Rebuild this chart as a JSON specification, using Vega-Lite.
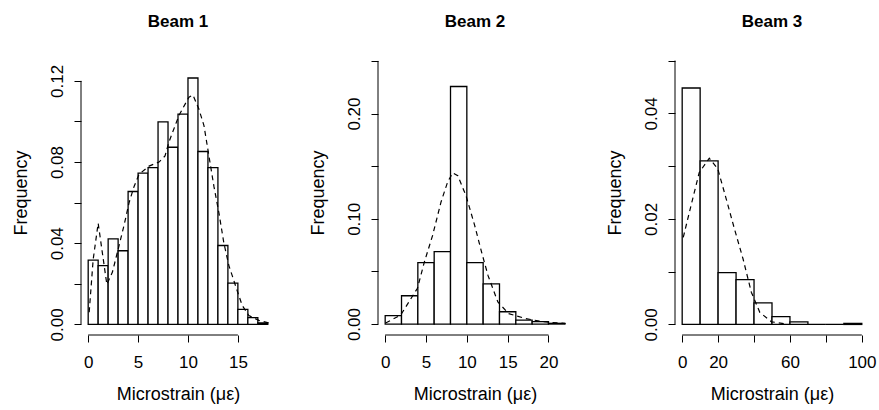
{
  "$schema": "https://vega.github.io/schema/vega-lite/v6.json",
  "padding": {"left": 12, "top": 13, "right": 5, "bottom": 5},
  "bounds": "flush",
  "spacing": 103,
  "datasets": {
    "b1bars": [
      {"start": 0, "end": 1, "freq": 0.0317},
      {"start": 1, "end": 2, "freq": 0.0290},
      {"start": 2, "end": 3, "freq": 0.0422},
      {"start": 3, "end": 4, "freq": 0.0363},
      {"start": 4, "end": 5, "freq": 0.0655},
      {"start": 5, "end": 6, "freq": 0.0745},
      {"start": 6, "end": 7, "freq": 0.0773},
      {"start": 7, "end": 8, "freq": 0.0998},
      {"start": 8, "end": 9, "freq": 0.0873},
      {"start": 9, "end": 10, "freq": 0.1036},
      {"start": 10, "end": 11, "freq": 0.1214},
      {"start": 11, "end": 12, "freq": 0.0852},
      {"start": 12, "end": 13, "freq": 0.0773},
      {"start": 13, "end": 14, "freq": 0.0389},
      {"start": 14, "end": 15, "freq": 0.0204},
      {"start": 15, "end": 16, "freq": 0.0074},
      {"start": 16, "end": 17, "freq": 0.0034},
      {"start": 17, "end": 18, "freq": 0.0007}
    ],
    "b1dens": [
      {"x": 0.1, "y": 0.006}, {"x": 0.5, "y": 0.032}, {"x": 1.0, "y": 0.0499},
      {"x": 1.4, "y": 0.036}, {"x": 1.87, "y": 0.0197}, {"x": 2.43, "y": 0.0258},
      {"x": 3.1, "y": 0.039}, {"x": 3.6, "y": 0.049}, {"x": 4.1, "y": 0.060},
      {"x": 4.6, "y": 0.068}, {"x": 5.1, "y": 0.074}, {"x": 6.1, "y": 0.078},
      {"x": 7.1, "y": 0.080}, {"x": 7.7, "y": 0.083}, {"x": 8.1, "y": 0.090},
      {"x": 9.1, "y": 0.103}, {"x": 10.1, "y": 0.112}, {"x": 10.5, "y": 0.113},
      {"x": 11.1, "y": 0.106}, {"x": 11.6, "y": 0.098}, {"x": 12.1, "y": 0.083},
      {"x": 12.6, "y": 0.068}, {"x": 13.1, "y": 0.055}, {"x": 13.6, "y": 0.040},
      {"x": 14.1, "y": 0.029}, {"x": 14.77, "y": 0.019}, {"x": 15.43, "y": 0.0094},
      {"x": 16.1, "y": 0.0044}, {"x": 17.1, "y": 0.002}, {"x": 18.1, "y": 0.0007}
    ],
    "b2bars": [
      {"start": 0, "end": 2, "freq": 0.0080},
      {"start": 2, "end": 4, "freq": 0.0269},
      {"start": 4, "end": 6, "freq": 0.0584},
      {"start": 6, "end": 8, "freq": 0.0688},
      {"start": 8, "end": 10, "freq": 0.2257},
      {"start": 10, "end": 12, "freq": 0.0584},
      {"start": 12, "end": 14, "freq": 0.0382},
      {"start": 14, "end": 16, "freq": 0.0117},
      {"start": 16, "end": 18, "freq": 0.0038},
      {"start": 18, "end": 20, "freq": 0.0023},
      {"start": 20, "end": 22, "freq": 0.0007}
    ],
    "b2dens": [
      {"x": 0.05, "y": 0.001}, {"x": 1.9, "y": 0.0085}, {"x": 3.95, "y": 0.034},
      {"x": 4.8, "y": 0.059}, {"x": 5.8, "y": 0.084}, {"x": 6.84, "y": 0.116},
      {"x": 7.65, "y": 0.135}, {"x": 8.27, "y": 0.1437}, {"x": 8.89, "y": 0.141},
      {"x": 9.9, "y": 0.122}, {"x": 10.95, "y": 0.094}, {"x": 11.8, "y": 0.0686},
      {"x": 12.6, "y": 0.046}, {"x": 13.8, "y": 0.021}, {"x": 15.1, "y": 0.010},
      {"x": 17.1, "y": 0.0054}, {"x": 19.2, "y": 0.0023}, {"x": 22.1, "y": 0.0005}
    ],
    "b3bars": [
      {"start": 0, "end": 10, "freq": 0.0448},
      {"start": 10, "end": 20, "freq": 0.0310},
      {"start": 20, "end": 30, "freq": 0.0098},
      {"start": 30, "end": 40, "freq": 0.0085},
      {"start": 40, "end": 50, "freq": 0.0041},
      {"start": 50, "end": 60, "freq": 0.0015},
      {"start": 60, "end": 70, "freq": 0.0005},
      {"start": 70, "end": 80, "freq": 0},
      {"start": 80, "end": 90, "freq": 0},
      {"start": 90, "end": 100, "freq": 0.0002}
    ],
    "b3dens": [
      {"x": 0.6, "y": 0.0165}, {"x": 4.9, "y": 0.0225}, {"x": 9.5, "y": 0.0288},
      {"x": 15.1, "y": 0.0315}, {"x": 19.8, "y": 0.0295}, {"x": 24.5, "y": 0.0238},
      {"x": 29.1, "y": 0.0181}, {"x": 33.9, "y": 0.0124}, {"x": 38.5, "y": 0.0061},
      {"x": 43.2, "y": 0.0023}, {"x": 49.7, "y": 0.0005}, {"x": 58, "y": 0.0001}
    ]
  },
  "hconcat": [
    {
      "title": "Beam 1",
      "width": 194,
      "height": 285,
      "layer": [
        {
          "data": {"name": "b1bars"},
          "mark": {"type": "rect", "fill": "white", "stroke": "black", "strokeWidth": 1.3},
          "encoding": {
            "x": {"field": "start", "type": "quantitative", "scale": {"domain": [-0.72, 18.72], "nice": false, "zero": false},
                  "axis": {"title": "Microstrain (με)", "values": [0, 5, 10, 15]}},
            "x2": {"field": "end"},
            "y": {"field": "freq", "type": "quantitative", "scale": {"domain": [-0.0052, 0.1352], "nice": false, "zero": false},
                  "axis": {"title": "Frequency", "values": [0, 0.02, 0.04, 0.06, 0.08, 0.1, 0.12],
                           "labelExpr": "round(datum.value*100) % 4 == 0 ? format(datum.value, '.2f') : ''"}},
            "y2": {"datum": 0}
          }
        },
        {
          "data": {"name": "b1dens"},
          "mark": {"type": "line", "stroke": "black", "strokeWidth": 1.2, "strokeDash": [5, 4]},
          "encoding": {
            "x": {"field": "x", "type": "quantitative", "axis": {"title": "Microstrain (με)", "values": [0, 5, 10, 15]}},
            "y": {"field": "y", "type": "quantitative", "axis": {"title": "Frequency", "values": [0, 0.02, 0.04, 0.06, 0.08, 0.1, 0.12],
                           "labelExpr": "round(datum.value*100) % 4 == 0 ? format(datum.value, '.2f') : ''"}}
          }
        },
        {
          "data": {"values": [{}]},
          "mark": {"type": "rule", "stroke": "black", "strokeWidth": 1},
          "encoding": {
            "x": {"datum": 0, "type": "quantitative", "axis": {"title": "Microstrain (με)", "values": [0, 5, 10, 15]}},
            "x2": {"datum": 15},
            "y": {"datum": -0.0052, "type": "quantitative", "axis": {"title": "Frequency", "values": [0, 0.02, 0.04, 0.06, 0.08, 0.1, 0.12],
                           "labelExpr": "round(datum.value*100) % 4 == 0 ? format(datum.value, '.2f') : ''"}}
          }
        },
        {
          "data": {"values": [{}]},
          "mark": {"type": "rule", "stroke": "black", "strokeWidth": 1},
          "encoding": {
            "x": {"datum": -0.72, "type": "quantitative", "axis": {"title": "Microstrain (με)", "values": [0, 5, 10, 15]}},
            "y": {"datum": 0, "type": "quantitative", "axis": {"title": "Frequency", "values": [0, 0.02, 0.04, 0.06, 0.08, 0.1, 0.12],
                           "labelExpr": "round(datum.value*100) % 4 == 0 ? format(datum.value, '.2f') : ''"}},
            "y2": {"datum": 0.12}
          }
        }
      ]
    },
    {
      "title": "Beam 2",
      "width": 194,
      "height": 285,
      "layer": [
        {
          "data": {"name": "b2bars"},
          "mark": {"type": "rect", "fill": "white", "stroke": "black", "strokeWidth": 1.3},
          "encoding": {
            "x": {"field": "start", "type": "quantitative", "scale": {"domain": [-0.88, 22.88], "nice": false, "zero": false},
                  "axis": {"title": "Microstrain (με)", "values": [0, 5, 10, 15, 20]}},
            "x2": {"field": "end"},
            "y": {"field": "freq", "type": "quantitative", "scale": {"domain": [-0.0104, 0.2604], "nice": false, "zero": false},
                  "axis": {"title": "Frequency", "values": [0, 0.05, 0.1, 0.15, 0.2, 0.25],
                           "labelExpr": "round(datum.value*100) % 10 == 0 ? format(datum.value, '.2f') : ''"}},
            "y2": {"datum": 0}
          }
        },
        {
          "data": {"name": "b2dens"},
          "mark": {"type": "line", "stroke": "black", "strokeWidth": 1.2, "strokeDash": [5, 4]},
          "encoding": {
            "x": {"field": "x", "type": "quantitative", "axis": {"title": "Microstrain (με)", "values": [0, 5, 10, 15, 20]}},
            "y": {"field": "y", "type": "quantitative", "axis": {"title": "Frequency", "values": [0, 0.05, 0.1, 0.15, 0.2, 0.25],
                           "labelExpr": "round(datum.value*100) % 10 == 0 ? format(datum.value, '.2f') : ''"}}
          }
        },
        {
          "data": {"values": [{}]},
          "mark": {"type": "rule", "stroke": "black", "strokeWidth": 1},
          "encoding": {
            "x": {"datum": 0, "type": "quantitative", "axis": {"title": "Microstrain (με)", "values": [0, 5, 10, 15, 20]}},
            "x2": {"datum": 20},
            "y": {"datum": -0.0104, "type": "quantitative", "axis": {"title": "Frequency", "values": [0, 0.05, 0.1, 0.15, 0.2, 0.25],
                           "labelExpr": "round(datum.value*100) % 10 == 0 ? format(datum.value, '.2f') : ''"}}
          }
        },
        {
          "data": {"values": [{}]},
          "mark": {"type": "rule", "stroke": "black", "strokeWidth": 1},
          "encoding": {
            "x": {"datum": -0.88, "type": "quantitative", "axis": {"title": "Microstrain (με)", "values": [0, 5, 10, 15, 20]}},
            "y": {"datum": 0, "type": "quantitative", "axis": {"title": "Frequency", "values": [0, 0.05, 0.1, 0.15, 0.2, 0.25],
                           "labelExpr": "round(datum.value*100) % 10 == 0 ? format(datum.value, '.2f') : ''"}},
            "y2": {"datum": 0.25}
          }
        }
      ]
    },
    {
      "title": "Beam 3",
      "width": 194,
      "height": 285,
      "layer": [
        {
          "data": {"name": "b3bars"},
          "mark": {"type": "rect", "fill": "white", "stroke": "black", "strokeWidth": 1.3},
          "encoding": {
            "x": {"field": "start", "type": "quantitative", "scale": {"domain": [-4, 104], "nice": false, "zero": false},
                  "axis": {"title": "Microstrain (με)", "values": [0, 20, 40, 60, 80, 100],
                           "labelExpr": "datum.value == 40 || datum.value == 80 ? '' : datum.label"}},
            "x2": {"field": "end"},
            "y": {"field": "freq", "type": "quantitative", "scale": {"domain": [-0.002, 0.052], "nice": false, "zero": false},
                  "axis": {"title": "Frequency", "values": [0, 0.01, 0.02, 0.03, 0.04, 0.05],
                           "labelExpr": "round(datum.value*100) % 2 == 0 ? format(datum.value, '.2f') : ''"}},
            "y2": {"datum": 0}
          }
        },
        {
          "data": {"name": "b3dens"},
          "mark": {"type": "line", "stroke": "black", "strokeWidth": 1.2, "strokeDash": [5, 4]},
          "encoding": {
            "x": {"field": "x", "type": "quantitative", "axis": {"title": "Microstrain (με)", "values": [0, 20, 40, 60, 80, 100],
                           "labelExpr": "datum.value == 40 || datum.value == 80 ? '' : datum.label"}},
            "y": {"field": "y", "type": "quantitative", "axis": {"title": "Frequency", "values": [0, 0.01, 0.02, 0.03, 0.04, 0.05],
                           "labelExpr": "round(datum.value*100) % 2 == 0 ? format(datum.value, '.2f') : ''"}}
          }
        },
        {
          "data": {"values": [{}]},
          "mark": {"type": "rule", "stroke": "black", "strokeWidth": 1},
          "encoding": {
            "x": {"datum": 0, "type": "quantitative", "axis": {"title": "Microstrain (με)", "values": [0, 20, 40, 60, 80, 100],
                           "labelExpr": "datum.value == 40 || datum.value == 80 ? '' : datum.label"}},
            "x2": {"datum": 100},
            "y": {"datum": -0.002, "type": "quantitative", "axis": {"title": "Frequency", "values": [0, 0.01, 0.02, 0.03, 0.04, 0.05],
                           "labelExpr": "round(datum.value*100) % 2 == 0 ? format(datum.value, '.2f') : ''"}}
          }
        },
        {
          "data": {"values": [{}]},
          "mark": {"type": "rule", "stroke": "black", "strokeWidth": 1},
          "encoding": {
            "x": {"datum": -4, "type": "quantitative", "axis": {"title": "Microstrain (με)", "values": [0, 20, 40, 60, 80, 100],
                           "labelExpr": "datum.value == 40 || datum.value == 80 ? '' : datum.label"}},
            "y": {"datum": 0, "type": "quantitative", "axis": {"title": "Frequency", "values": [0, 0.01, 0.02, 0.03, 0.04, 0.05],
                           "labelExpr": "round(datum.value*100) % 2 == 0 ? format(datum.value, '.2f') : ''"}},
            "y2": {"datum": 0.05}
          }
        }
      ]
    }
  ],
  "config": {
    "view": {"stroke": null},
    "axis": {
      "domain": false, "grid": false,
      "tickColor": "black", "tickSize": 7, "tickWidth": 1,
      "labelColor": "black", "labelFont": "Liberation Sans", "labelFontSize": 17,
      "labelOverlap": false, "labelFlush": false, "labelBound": false,
      "titleFont": "Liberation Sans", "titleFontSize": 18, "titleFontWeight": "normal", "titleColor": "black"
    },
    "axisY": {"labelAngle": -90, "labelAlign": "center", "labelBaseline": "bottom", "labelPadding": 8, "titlePadding": 18},
    "axisX": {"labelPadding": 12, "titlePadding": 15},
    "title": {"font": "Liberation Sans", "fontSize": 17, "fontWeight": "bold", "color": "black", "offset": 19, "anchor": "middle"}
  }
}
